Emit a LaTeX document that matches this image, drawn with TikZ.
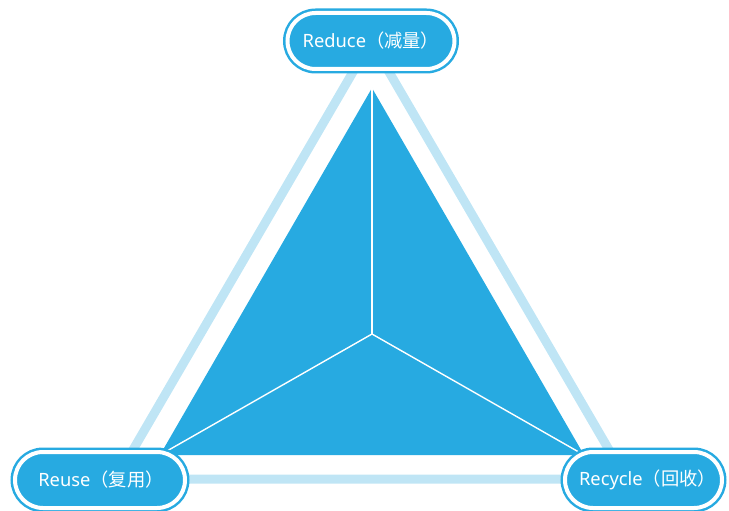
\documentclass[tikz,border=0pt]{standalone}
\usepackage{fontspec}
\setmainfont{Noto Sans}
\newfontfamily\cjk{Noto Sans CJK SC}
\usetikzlibrary{shapes.misc}
\definecolor{dblue}{HTML}{27AAE1}
\definecolor{lblue}{HTML}{BFE5F5}
\begin{document}
\begin{tikzpicture}[x=1pt,y=-1pt,
  pill/.style={rounded rectangle, fill=dblue, draw=dblue, double=white,
    double distance=4pt, line width=2.5pt, minimum height=56pt,
    text=white, font=\fontsize{18.3}{20}\selectfont, inner sep=0pt},
  outertri/.style={draw=lblue, line width=9pt, line join=miter},
  spoke/.style={draw=white, line width=1.4pt}]
\useasboundingbox (0,0) rectangle (729,511);
% outer light triangle
\coordinate (lt) at (371,41);
\coordinate (ll) at (116,479);
\coordinate (lr) at (626,479);
\draw[outertri] (lt) -- (ll) -- (lr) -- cycle;
% inner dark triangle
\coordinate (it) at (372,88);
\coordinate (il) at (160,455);
\coordinate (ir) at (584,455);
\coordinate (c) at (372,334);
\fill[dblue] (it) -- (il) -- (ir) -- cycle;
\draw[spoke] (c) -- (it);
\draw[spoke] (c) -- (il);
\draw[spoke] (c) -- (ir);
% nodes
\node[pill, minimum width=167pt] (reduce) at (371,41) {Reduce{\cjk（减量）}};
\node[pill, minimum width=170pt] (reuse) at (100,480) {\hspace*{2pt}Reuse{\cjk（复用）}};
\node[pill, minimum width=157pt] (recycle) at (643.5,480) {\hspace*{8pt}Recycle{\cjk（回收）}};
\end{tikzpicture}
\end{document}
